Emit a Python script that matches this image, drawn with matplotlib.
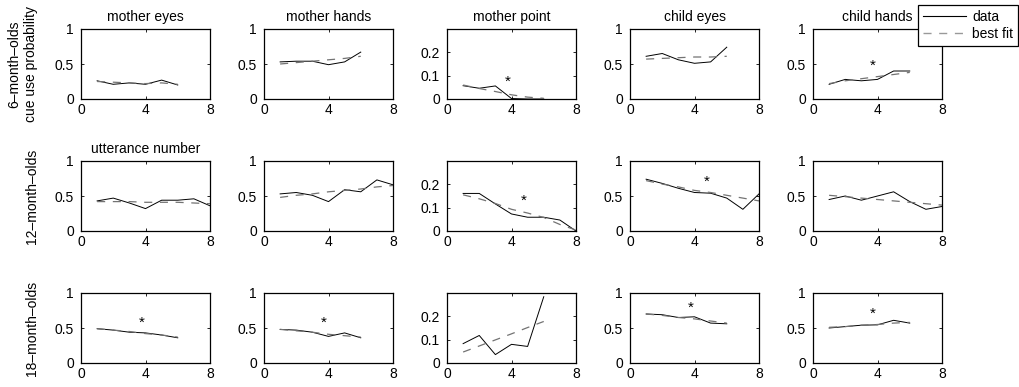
import numpy as np
import matplotlib
matplotlib.use('Agg')
import matplotlib.pyplot as plt

plt.rcParams['font.family'] = ['Liberation Sans', 'DejaVu Sans']
plt.rcParams['font.size'] = 10
plt.rcParams['lines.scale_dashes'] = False

cues = ["mother eyes", "mother hands", "mother point", "child eyes", "child hands"]
ages = ["6\u2013month\u2013olds\ncue use probability", "12\u2013month\u2013olds", "18\u2013month\u2013olds"]

# x = utterance number
x_6mo = [1, 2, 3, 4, 5, 6]
x_12mo = [1, 2, 3, 4, 5, 6, 7, 8]
x_18mo = [1, 2, 3, 4, 5, 6]

# data (solid) and best fit (dashed), one list per cue
data_6mo = [
    [0.26, 0.21, 0.23, 0.21, 0.27, 0.20],
    [0.53, 0.54, 0.54, 0.49, 0.53, 0.67],
    [0.057, 0.046, 0.056, 0.002, 0.0, 0.0],
    [0.61, 0.65, 0.56, 0.51, 0.53, 0.74],
    [0.21, 0.28, 0.26, 0.28, 0.40, 0.40],
]
fit_6mo = [
    [0.25, 0.24, 0.23, 0.22, 0.23, 0.21],
    [0.50, 0.52, 0.54, 0.56, 0.58, 0.61],
    [0.060, 0.045, 0.032, 0.018, 0.008, 0.003],
    [0.57, 0.58, 0.59, 0.60, 0.60, 0.61],
    [0.22, 0.26, 0.29, 0.32, 0.35, 0.38],
]
data_12mo = [
    [0.43, 0.47, 0.40, 0.32, 0.44, 0.44, 0.46, 0.36],
    [0.53, 0.55, 0.51, 0.42, 0.59, 0.56, 0.73, 0.66],
    [0.161, 0.161, 0.116, 0.073, 0.059, 0.059, 0.047, 0.0],
    [0.74, 0.68, 0.61, 0.55, 0.54, 0.47, 0.31, 0.53],
    [0.45, 0.50, 0.44, 0.50, 0.56, 0.42, 0.31, 0.35],
]
fit_12mo = [
    [0.42, 0.42, 0.42, 0.41, 0.41, 0.41, 0.40, 0.39],
    [0.48, 0.51, 0.53, 0.56, 0.58, 0.60, 0.63, 0.65],
    [0.155, 0.138, 0.118, 0.093, 0.077, 0.058, 0.028, 0.004],
    [0.72, 0.67, 0.63, 0.58, 0.55, 0.51, 0.47, 0.43],
    [0.51, 0.49, 0.47, 0.45, 0.43, 0.41, 0.39, 0.37],
]
data_18mo = [
    [0.49, 0.47, 0.44, 0.43, 0.40, 0.36],
    [0.48, 0.47, 0.44, 0.38, 0.43, 0.36],
    [0.083, 0.118, 0.036, 0.080, 0.071, 0.284],
    [0.70, 0.69, 0.65, 0.66, 0.57, 0.56],
    [0.50, 0.52, 0.54, 0.545, 0.61, 0.57],
]
fit_18mo = [
    [0.49, 0.47, 0.45, 0.42, 0.40, 0.37],
    [0.48, 0.46, 0.44, 0.41, 0.39, 0.37],
    [0.047, 0.073, 0.099, 0.125, 0.152, 0.178],
    [0.70, 0.68, 0.65, 0.63, 0.60, 0.57],
    [0.51, 0.52, 0.54, 0.55, 0.57, 0.58],
]

# significance stars: (row, col, x, y)
stars = [
    (0, 2, 3.75, 0.074), (0, 4, 3.7, 0.47),
    (1, 2, 4.73, 0.13), (1, 3, 4.76, 0.70),
    (2, 0, 3.76, 0.57), (2, 1, 3.72, 0.57), (2, 3, 3.74, 0.79), (2, 4, 3.72, 0.70),
]

rows = [(x_6mo, data_6mo, fit_6mo), (x_12mo, data_12mo, fit_12mo), (x_18mo, data_18mo, fit_18mo)]

W, H = 1019, 387
fig = plt.figure(figsize=(W / 100, H / 100), dpi=100)

col_left = [81, 264, 447, 630, 813]
row_top = [29, 161, 293]
aw, ah = 129, 70

axes = {}
for r, (xs, dat, fit) in enumerate(rows):
    for c in range(5):
        ax = fig.add_axes([col_left[c] / W, 1 - (row_top[r] + ah) / H, aw / W, ah / H])
        axes[(r, c)] = ax
        ld, = ax.plot(xs, dat[c], color='k', lw=0.7)
        lf, = ax.plot(xs, fit[c], color='0.45', lw=0.9, dashes=(5.8, 5.5))
        ax.set_xlim(0, 8)
        ax.set_xticks([0, 4, 8])
        ax.set_xticklabels(["0", "4", "8"])
        if c == 2:
            ax.set_ylim(0, 0.3)
            ax.set_yticks([0, 0.1, 0.2])
            ax.set_yticklabels(["0", "0.1", "0.2"])
        else:
            ax.set_ylim(0, 1)
            ax.set_yticks([0, 0.5, 1])
            ax.set_yticklabels(["0", "0.5", "1"])
        ax.tick_params(direction='in', length=2.5, width=0.6, top=True, right=True, labelsize=10)
        ax.tick_params(axis='y', pad=5)
        ax.tick_params(axis='x', pad=3)
        for s in ax.spines.values():
            s.set_linewidth(0.9)
        if r == 0:
            ax.set_title(cues[c], fontsize=10, pad=6)

axes[(1, 0)].set_title("utterance number", fontsize=10, pad=6)

for r, c, sx, sy in stars:
    axes[(r, c)].text(sx, sy, "*", ha='center', va='center', fontsize=11)

# row labels
label_x = [22.5, 32, 32]
for r in range(3):
    fig.text(label_x[r] / W, 1 - (row_top[r] + ah / 2) / H, ages[r], rotation=90,
             ha='center', va='center', multialignment='center', fontsize=10, linespacing=1.25)

from matplotlib.lines import Line2D
h_data = Line2D([], [], color='k', lw=0.8)
h_fit = Line2D([], [], color='0.6', lw=1.0, dashes=(5.8, 5.5))
leg = fig.legend([h_data, h_fit], ["data", "best fit"], loc='upper left',
                 bbox_to_anchor=(918 / W, 1 - 5 / H), fancybox=False, framealpha=1,
                 edgecolor='k', borderpad=0.35, handlelength=3.1, handletextpad=0.45,
                 labelspacing=0.25, borderaxespad=0, fontsize=10)
leg.get_frame().set_linewidth(0.9)

fig.savefig("out.png", dpi=100)
